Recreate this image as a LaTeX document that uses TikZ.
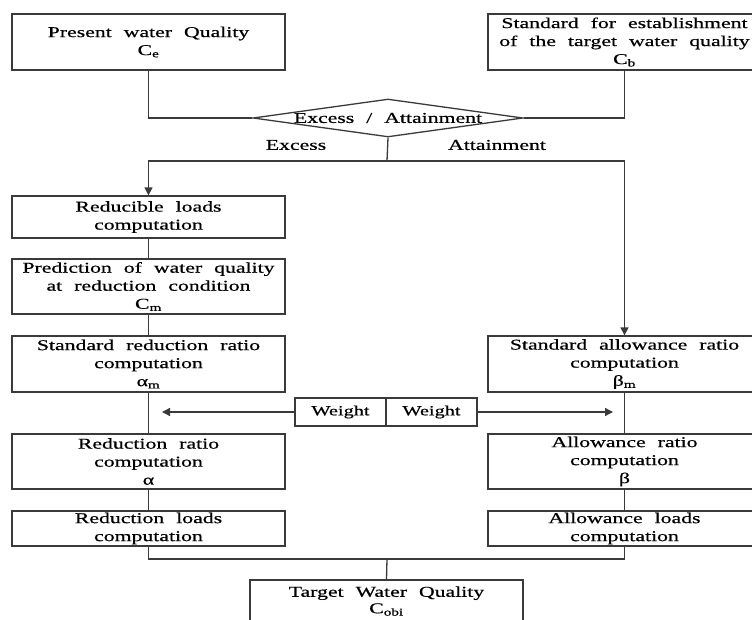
\documentclass[tikz,border=0pt]{standalone}
\usepackage{fontspec}
\setmainfont{Liberation Serif}[FakeStretch=1.45,WordSpace=2.2,FakeBold=0.6]
\usetikzlibrary{shapes.geometric,arrows.meta}
\definecolor{ln}{HTML}{3A3A3A}
\begin{document}
\begin{tikzpicture}[x=1pt,y=-1pt,
  box/.style={draw=ln,line width=1.3pt,rectangle,inner sep=0pt,minimum width=273pt,align=center,font=\fontsize{15}{18}\selectfont},
  wbox/.style={draw=ln,line width=1.3pt,rectangle,inner sep=0pt,minimum width=91pt,minimum height=28pt,font=\fontsize{14}{17}\selectfont},
  lbl/.style={font=\fontsize{15}{18}\selectfont},
  conn/.style={draw=ln,line width=1.3pt},
  arr/.style={conn,-{Triangle[length=8pt,width=8pt]}}]
\useasboundingbox (0,0) rectangle (752,619);
\node[box,minimum height=56pt] (b1) at (148.5,42) {Present water Quality\\C\textsubscript{e}};
\node[box,minimum height=56pt] (b2) at (624.5,42) {Standard for establishment\\of the target water quality\\C\textsubscript{b}};
\node[draw=ln,line width=1.3pt,diamond,aspect=6.75,minimum width=270pt,inner sep=0pt,lbl] (dia) at (388,118) {Excess / Attainment};
\node[box,minimum height=42pt] (reduc) at (148.5,217) {Reducible loads\\computation};
\node[box,minimum height=55pt] (pred) at (148.5,286.5) {Prediction of water quality\\at reduction condition\\C\textsubscript{m}};
\node[box,minimum height=56pt] (stdred) at (148.5,364) {Standard reduction ratio\\computation\\α\textsubscript{m}};
\node[box,minimum height=56pt] (stdallow) at (624.5,364) {Standard allowance ratio\\computation\\β\textsubscript{m}};
\node[wbox] (w1) at (340.5,412) {Weight};
\node[wbox] (w2) at (431.5,412) {Weight};
\node[box,minimum height=55pt] (redratio) at (148.5,461.5) {Reduction ratio\\computation\\α};
\node[box,minimum height=55pt] (allratio) at (624.5,461.5) {Allowance ratio\\computation\\β};
\node[box,minimum height=35pt] (redload) at (148.5,528.5) {Reduction loads\\computation};
\node[box,minimum height=35pt] (allload) at (624.5,528.5) {Allowance loads\\computation};
\node[box,minimum height=42pt,font=\fontsize{15}{16.5}\selectfont] (target) at (386.5,601) {Target Water Quality\\C\textsubscript{obi}};
\node[lbl] (lex) at (296,145) {Excess};
\node[lbl] (lat) at (497,145) {Attainment};
\coordinate (split) at (387,161);
\coordinate (merge) at (387,559);
\coordinate (tl) at (162,412);
\coordinate (tr) at (613,412);
\draw[conn] (b1.south) |- (dia.west);
\draw[conn] (b2.south) |- (dia.east);
\draw[conn] (dia.south) -- (split);
\draw[arr] (split) -| (reduc.north);
\draw[arr] (split) -| (stdallow.north);
\draw[conn] (reduc.south) -- (pred.north);
\draw[conn] (pred.south) -- (stdred.north);
\draw[conn] (stdred.south) -- (redratio.north);
\draw[conn] (stdallow.south) -- (allratio.north);
\draw[arr] (w1.west) -- (tl);
\draw[arr] (w2.east) -- (tr);
\draw[conn] (redratio.south) -- (redload.north);
\draw[conn] (allratio.south) -- (allload.north);
\draw[conn] (redload.south) |- (merge);
\draw[conn] (allload.south) |- (merge);
\draw[conn] (merge) -- (target.north);
\end{tikzpicture}
\end{document}
